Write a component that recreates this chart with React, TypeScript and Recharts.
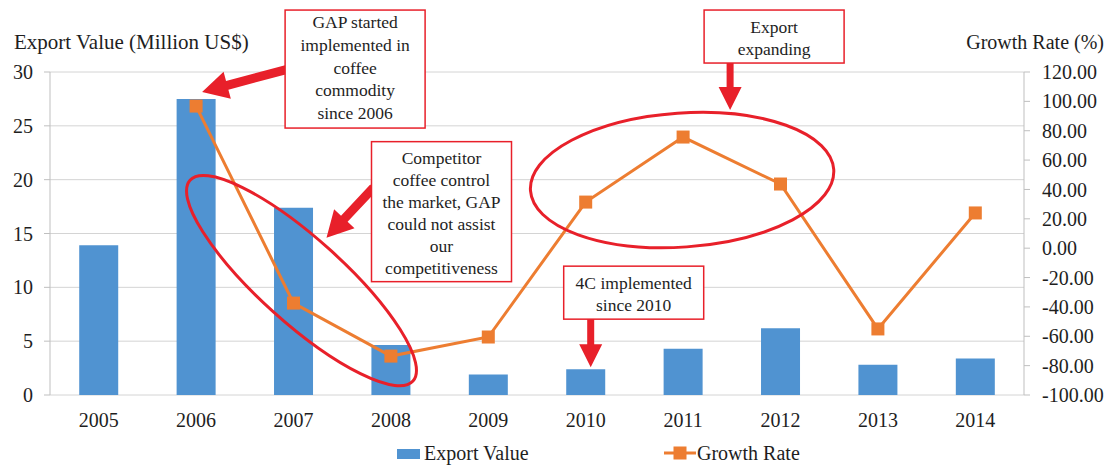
import React from "react";
import {
  Bar,
  CartesianGrid,
  ComposedChart,
  Legend,
  Line,
  ReferenceDot,
  XAxis,
  YAxis
} from "recharts";

const years = ["2005", "2006", "2007", "2008", "2009", "2010", "2011", "2012", "2013", "2014"];
const exportValue = [13.9, 27.5, 17.4, 4.65, 1.9, 2.4, 4.3, 6.2, 2.8, 3.4];
const growthRate = [null, 96.8, -37.4, -73.5, -60.5, 31.4, 75.7, 43.7, -55.0, 24.0];
const leftTicks = [0, 5, 10, 15, 20, 25, 30];
const rightTicks = [-100, -80, -60, -40, -20, 0, 20, 40, 60, 80, 100, 120];
const boundaryTicks = [0, 1, 2, 3, 4, 5, 6, 7, 8, 9, 10];

const gapNote = ["GAP started", "implemented in", "coffee", "commodity", "since 2006"];
const competitorNote = ["Competitor", "coffee control", "the market, GAP", "could not assist", "our", "competitiveness"];
const expandNote = ["Export", "expanding"];
const fourCNote = ["4C implemented", "since 2010"];

const rows = years.map((year, i) => ({
  year,
  exportValue: exportValue[i],
  growthRate: growthRate[i]
}));

const FONT = "'Liberation Serif', 'Times New Roman', serif";
const BLUE = "#5093D1";
const ORANGE = "#ED7D31";
const RED = "#E8202A";
const AXIS = "#BFBFBF";
const TEXT = "#1e1e1e";

// polygon for a fat block arrow going from (x1,y1) to the tip (x2,y2)
function arrowPoints(x1: number, y1: number, x2: number, y2: number, shaft = 4, headLen = 24, headHalf = 12) {
  const len = Math.hypot(x2 - x1, y2 - y1);
  const ux = (x2 - x1) / len;
  const uy = (y2 - y1) / len;
  const px = -uy;
  const py = ux;
  const bx = x2 - ux * headLen;
  const by = y2 - uy * headLen;
  const pts = [
    [x1 + px * shaft, y1 + py * shaft],
    [bx + px * shaft, by + py * shaft],
    [bx + px * headHalf, by + py * headHalf],
    [x2, y2],
    [bx - px * headHalf, by - py * headHalf],
    [bx - px * shaft, by - py * shaft],
    [x1 - px * shaft, y1 - py * shaft]
  ];
  return pts.map((p) => p.join(",")).join(" ");
}

function NoteBox({ x, y, w, h, lines, first, gap }: any) {
  return (
    <g>
      <rect x={x} y={y} width={w} height={h} fill="#fff" stroke={RED} strokeWidth={1.5} />
      <text fontFamily={FONT} fontSize={17.5} fill={TEXT} textAnchor="middle">
        {lines.map((line: string, i: number) => (
          <tspan key={line} x={x + w / 2} y={y + first + i * gap} dominantBaseline="central">
            {line}
          </tspan>
        ))}
      </text>
    </g>
  );
}

const renderGapNote = (p: any) => {
  const { cx, cy } = p;
  return (
    <g>
      <polygon points={arrowPoints(cx + 92, cy - 37, cx + 6, cy - 14, 4.5, 26, 14)} fill={RED} />
      <NoteBox x={cx + 89} y={cy - 96} w={140} h={118} lines={gapNote} first={12} gap={22.8} />
    </g>
  );
};

const renderCompetitorNote = (p: any) => {
  const { cx, cy } = p;
  const ex = cx + 8;
  const ey = cy + 73;
  return (
    <g>
      <ellipse cx={ex} cy={ey} rx={150} ry={42} fill="none" stroke={RED} strokeWidth={3}
        transform={`rotate(42 ${ex} ${ey})`} />
      <polygon points={arrowPoints(cx + 80, cy - 20, cx + 33, cy + 30, 4.5, 26, 14)} fill={RED} />
      <NoteBox x={cx + 78} y={cy - 66} w={140} h={140} lines={competitorNote} first={16} gap={22} />
    </g>
  );
};

const renderExpandNote = (p: any) => {
  const { cx, cy } = p;
  const ex = cx - 1;
  const ey = cy + 43;
  return (
    <g>
      <ellipse cx={ex} cy={ey} rx={152} ry={67} fill="none" stroke={RED} strokeWidth={3}
        transform={`rotate(-4 ${ex} ${ey})`} />
      <polygon points={arrowPoints(cx + 47, cy - 76, cx + 47, cy - 27, 3.5, 23, 11.5)} fill={RED} />
      <NoteBox x={cx + 21} y={cy - 127} w={140} h={53} lines={expandNote} first={17} gap={22} />
    </g>
  );
};

const renderFourCNote = (p: any) => {
  const { cx, cy } = p;
  return (
    <g>
      <polygon points={arrowPoints(cx + 5, cy - 51, cx + 5, cy - 2, 3.5, 23, 11.5)} fill={RED} />
      <NoteBox x={cx - 22} y={cy - 103} w={140} h={53} lines={fourCNote} first={17} gap={22} />
    </g>
  );
};

const renderSquare = (props: any) => {
  const { cx, cy, index } = props;
  if (cx == null || cy == null) return <g key={`sq-${index}`} />;
  return <rect key={`sq-${index}`} x={cx - 6.5} y={cy - 6.5} width={13} height={13} fill={ORANGE} />;
};

const renderLegend = () => (
  <div style={{ position: "relative", width: 1110, height: 30, fontFamily: FONT, fontSize: 20, color: TEXT }}>
    <div style={{ position: "absolute", left: 397, top: 10, width: 23, height: 10, background: BLUE }} />
    <span style={{ position: "absolute", left: 424, top: 2, lineHeight: "24px" }}>Export Value</span>
    <svg style={{ position: "absolute", left: 664, top: 4 }} width={32} height={20}>
      <line x1={0} y1={10} x2={32} y2={10} stroke={ORANGE} strokeWidth={3} />
      <rect x={9.5} y={3.5} width={13} height={13} fill={ORANGE} />
    </svg>
    <span style={{ position: "absolute", left: 697, top: 2, lineHeight: "24px" }}>Growth Rate</span>
  </div>
);

const tickStyle = { fontFamily: FONT, fontSize: 20, fill: TEXT };

export default function App() {
  return (
    <div style={{ position: "absolute", left: 0, top: 0, width: 1110, height: 469, background: "#fff" }}>
      <div style={{ position: "absolute", left: 14, top: 30, fontFamily: FONT, fontSize: 21, lineHeight: "24px", color: TEXT, zIndex: 2 }}>
        Export Value (Million US$)
      </div>
      <div style={{ position: "absolute", right: 6, top: 30, fontFamily: FONT, fontSize: 20, lineHeight: "24px", color: TEXT, zIndex: 2 }}>
        Growth Rate (%)
      </div>
      <ComposedChart
        width={1110}
        height={469}
        data={rows}
        margin={{ top: 72, right: 0, left: 0, bottom: 0 }}
        barCategoryGap="30%"
        style={{ fontFamily: FONT }}
      >
        <CartesianGrid xAxisId="main" yAxisId="left" vertical={false} stroke="#D4D4D4" />
        <XAxis
          xAxisId="ticks"
          type="number"
          domain={[0, 10]}
          ticks={boundaryTicks}
          interval={0}
          tick={false}
          tickSize={6}
          height={0}
          axisLine={{ stroke: AXIS }}
          tickLine={{ stroke: AXIS }}
          allowDataOverflow
        />
        <XAxis
          xAxisId="main"
          dataKey="year"
          height={44}
          interval={0}
          axisLine={false}
          tickLine={false}
          tickSize={0}
          tickMargin={18}
          tick={tickStyle}
        />
        <YAxis
          yAxisId="left"
          domain={[0, 30]}
          ticks={leftTicks}
          interval={0}
          width={50}
          tickSize={6}
          tickMargin={11}
          axisLine={{ stroke: AXIS }}
          tickLine={{ stroke: AXIS }}
          tick={tickStyle}
        />
        <YAxis
          yAxisId="right"
          orientation="right"
          domain={[-100, 120]}
          ticks={rightTicks}
          interval={0}
          width={86}
          tickSize={6}
          tickMargin={12}
          tickFormatter={(v: number) => v.toFixed(2)}
          axisLine={{ stroke: AXIS }}
          tickLine={{ stroke: AXIS }}
          tick={tickStyle}
        />
        <Legend
          verticalAlign="bottom"
          content={renderLegend}
          wrapperStyle={{ left: 0, width: 1110, height: 30 }}
        />
        <Bar xAxisId="main" yAxisId="left" dataKey="exportValue" name="Export Value" fill={BLUE} isAnimationActive={false} />
        <Line
          xAxisId="main"
          yAxisId="right"
          dataKey="growthRate"
          name="Growth Rate"
          stroke={ORANGE}
          strokeWidth={3}
          dot={renderSquare}
          activeDot={false}
          isAnimationActive={false}
        />
        <ReferenceDot xAxisId="main" yAxisId="left" x="2007" y={exportValue[2]} ifOverflow="visible" shape={renderCompetitorNote} />
        <ReferenceDot xAxisId="main" yAxisId="right" x="2011" y={growthRate[6] as number} ifOverflow="visible" shape={renderExpandNote} />
        <ReferenceDot xAxisId="main" yAxisId="left" x="2010" y={exportValue[5]} ifOverflow="visible" shape={renderFourCNote} />
        <ReferenceDot xAxisId="main" yAxisId="right" x="2006" y={growthRate[1] as number} ifOverflow="visible" shape={renderGapNote} />
      </ComposedChart>
    </div>
  );
}
